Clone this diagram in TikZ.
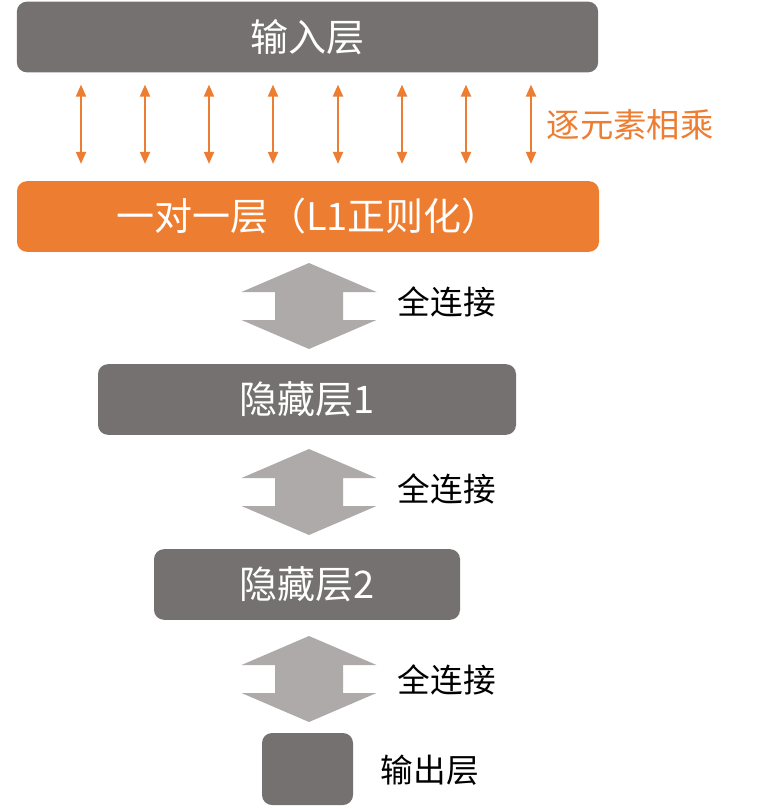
\documentclass[tikz,border=0pt]{standalone}
\usepackage{fontspec}
\setmainfont{Noto Sans CJK SC}
\usetikzlibrary{arrows.meta}
\definecolor{layergray}{HTML}{767171}
\definecolor{dotorange}{HTML}{ED7D31}
\definecolor{fcgray}{HTML}{AEAAAA}
\tikzset{>={Triangle[length=9pt,width=7.5pt]}, line width=1.0pt}
\tikzset{
  layer/.style={rectangle,rounded corners=7.5pt,fill=layergray,text=white,
    font=\fontsize{28.5}{32}\selectfont,minimum height=53pt,inner sep=0pt},
  sidelabel/.style={font=\fontsize{24.5}{28}\selectfont,anchor=west},
  dotarrow/.style={<->,draw=dotorange,line width=1.5pt,shorten <=9pt,shorten >=12.75pt},
  fcarrow/.pic={\fill[fcgray] (0,-43) -- (67.5,-14) -- (34,-14) -- (34,14) -- (67.5,14)
    -- (0,43) -- (-67.5,14) -- (-34,14) -- (-34,-14) -- (-67.5,-14) -- cycle;}
}

\begin{document}
\begin{tikzpicture}[x=0.75pt,y=-0.75pt]
  \useasboundingbox (0,0) rectangle (777,809);

  % layers
  \node[layer,minimum width=436pt] (inp) at (307.5,37) {输入层};
  \node[layer,fill=dotorange,minimum width=436.5pt] (one) at (308,216.5) {一对一层（L1正则化）};
  \node[layer,minimum width=313.5pt] (hid1) at (307,399.5) {隐藏层1};
  \node[layer,minimum width=229.5pt] (hid2) at (307,584.5) {隐藏层2};
  \node[layer,minimum width=68.25pt,minimum height=54pt] (out) at (307.5,769) {};

  % element-wise
  \foreach \x in {81,145,209,273,338,402,466,531}
    \draw[dotarrow] (inp.south -| \x,0) -- (one.north -| \x,0);
  \node[sidelabel,font=\fontsize{25}{28}\selectfont,text=dotorange] (ew) at (542,125) {逐元素相乘};

  % fully connected
  \pic at (309,306) {fcarrow};
  \pic at (309,492) {fcarrow};
  \pic at (309,679) {fcarrow};
  \node[sidelabel] (fc1) at (393,302) {全连接};
  \node[sidelabel] (fc2) at (393,489) {全连接};
  \node[sidelabel] (fc3) at (393,680) {全连接};
  \node[sidelabel] (outl) at (376,770) {输出层};
\end{tikzpicture}
\end{document}
